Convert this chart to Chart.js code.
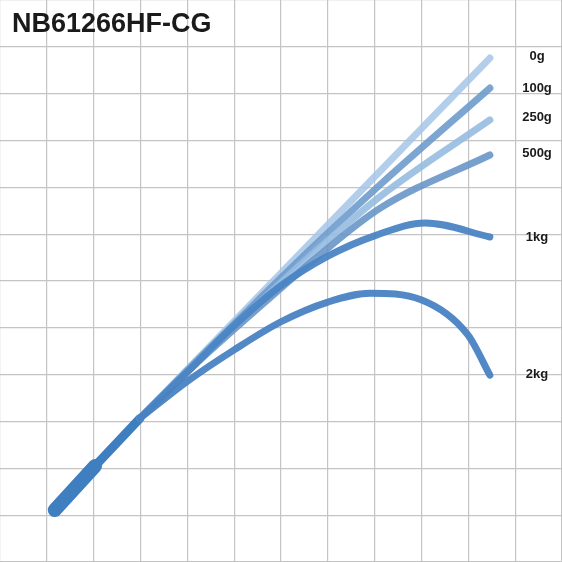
<!DOCTYPE html>
<html>
<head>
<meta charset="utf-8">
<script src="https://cdn.jsdelivr.net/npm/chart.js@4.4.0/dist/chart.umd.min.js"></script>
<style>
  html, body { margin: 0; padding: 0; background: #fff; }
  #wrap { width: 562px; height: 562px; }
</style>
</head>
<body>
<div id="wrap"><canvas id="bendChart"></canvas></div>
<script>
// bend curves in grid units (12 x 12 grid)
const title = "NB61266HF-CG";
const loads = ["0g", "100g", "250g", "500g", "1kg", "2kg"];
const butt = [[1.17, 1.11], [2.03, 2.05]];
const tip = [[2.03, 2.05], [2.99, 3.07]];
const curve0g = [[2.99, 3.07], [10.46, 10.76]];
const curve100g = [[2.99, 3.07], [4.17, 4.26], [5.34, 5.42], [6.7, 6.74], [8.11, 8.05], [10.46, 10.12]];
const curve250g = [[2.99, 3.07], [4.17, 4.24], [5.34, 5.35], [6.7, 6.6], [8.11, 7.8], [10.46, 9.44]];
const curve500g = [[2.99, 3.07], [4.17, 4.22], [5.34, 5.27], [6.7, 6.45], [8.11, 7.55], [10.46, 8.69]];
const curve1kg = [[2.99, 3.07], [3.99, 4.05], [5.00, 5.05], [6.00, 5.9], [7.00, 6.53], [8.01, 6.97], [9.08, 7.24], [10.46, 6.94]];
const curve2kg = [[2.99, 3.07], [3.99, 3.85], [5.00, 4.53], [6.00, 5.13], [7.00, 5.55], [7.90, 5.74], [8.99, 5.60], [9.99, 4.85], [10.46, 3.99]];
const labelY = [10.8, 10.12, 9.5, 8.73, 6.92, 4.0];

const curves = [curve0g, curve100g, curve250g, curve500g, curve1kg, curve2kg];
const colors = ["rgba(165,198,232,0.85)", "rgba(110,155,205,0.9)", "rgba(150,188,225,0.9)",
                "rgba(105,150,200,0.9)", "rgba(75,133,196,0.95)", "rgba(72,130,194,0.95)"];

const toPts = arr => arr.map(p => ({ x: p[0], y: p[1] }));

const datasets = curves.map((c, i) => ({
  label: loads[i],
  data: toPts(c),
  borderColor: colors[i],
  borderWidth: 7,
  borderCapStyle: 'round',
  cubicInterpolationMode: 'monotone',
  showLine: true,
  pointRadius: 0
})).reverse();

datasets.push({
  label: "tip",
  data: toPts(tip),
  borderColor: "#3f7fc0",
  borderWidth: 9,
  borderCapStyle: 'round',
  showLine: true,
  pointRadius: 0
});
datasets.push({
  label: "butt",
  data: toPts(butt),
  borderColor: "#3f7fc0",
  borderWidth: 14,
  borderCapStyle: 'round',
  showLine: true,
  pointRadius: 0
});

const textPlugin = {
  id: 'texts',
  afterDraw(chart) {
    const ctx = chart.ctx;
    const ys = chart.scales.y;
    ctx.save();
    ctx.fillStyle = '#1a1a1a';
    ctx.font = 'bold 27px "Liberation Sans", Arial, sans-serif';
    ctx.textBaseline = 'middle';
    ctx.fillText(title, 12, 25);
    ctx.font = 'bold 13px "Liberation Sans", Arial, sans-serif';
    ctx.textAlign = 'center';
    loads.forEach((l, i) => {
      ctx.fillText(l, 537, ys.getPixelForValue(labelY[i]));
    });
    ctx.restore();
  }
};

const bgPlugin = {
  id: 'bg',
  beforeDraw(chart) {
    const ctx = chart.ctx;
    ctx.save();
    ctx.fillStyle = '#fff';
    ctx.fillRect(0, 0, chart.width, chart.height);
    ctx.restore();
  }
};

new Chart(document.getElementById('bendChart'), {
  type: 'scatter',
  data: { datasets: datasets },
  options: {
    responsive: true,
    maintainAspectRatio: false,
    animation: false,
    layout: { padding: 0 },
    plugins: { legend: { display: false }, tooltip: { enabled: false } },
    scales: {
      x: {
        min: 0, max: 12,
        ticks: { display: false, stepSize: 1 },
        grid: { color: '#c4c4c4', drawTicks: false, lineWidth: 1.2 },
        border: { display: false }
      },
      y: {
        min: 0, max: 12,
        ticks: { display: false, stepSize: 1 },
        grid: { color: '#c4c4c4', drawTicks: false, lineWidth: 1.2 },
        border: { display: false }
      }
    }
  },
  plugins: [bgPlugin, textPlugin]
});
</script>
</body>
</html>
